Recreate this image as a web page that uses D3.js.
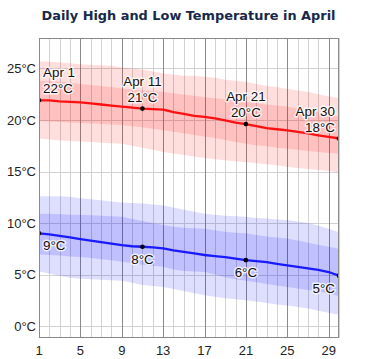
<!DOCTYPE html>
<html><head><meta charset="utf-8">
<script src="https://cdn.jsdelivr.net/npm/d3@7"></script>
<style>
body{margin:0;background:#fff;}
text{font-family:"Liberation Sans",Arial,sans-serif;}
</style></head>
<body><svg id="c" width="369" height="359"></svg>
<script>
const days = d3.range(1, 31);
const hiMean = [21.9,21.9,21.8,21.75,21.7,21.6,21.5,21.4,21.3,21.2,21.1,21.05,21.0,20.75,20.6,20.4,20.3,20.15,19.95,19.75,19.6,19.4,19.2,19.1,19.0,18.85,18.7,18.5,18.35,18.2];
const hiP90 = [25.7,25.65,25.6,25.5,25.4,25.35,25.3,25.25,25.1,25.0,24.9,24.7,24.5,24.4,24.3,24.3,24.2,24.1,23.9,23.8,23.7,23.5,23.3,23.2,23.0,22.85,22.7,22.5,22.3,22.1];
const hiP75 = [23.8,23.75,23.7,23.6,23.5,23.4,23.3,23.2,23.05,22.95,22.85,22.8,22.7,22.6,22.45,22.35,22.2,22.1,22.0,21.85,21.75,21.65,21.5,21.4,21.3,21.1,20.95,20.75,20.5,20.3];
const hiP25 = [19.9,19.85,19.8,19.75,19.7,19.65,19.6,19.55,19.5,19.4,19.3,19.15,19.0,18.85,18.7,18.55,18.4,18.25,18.05,17.85,17.7,17.55,17.45,17.3,17.2,17.1,17.0,16.9,16.8,16.75];
const hiP10 = [18.2,18.1,18.0,17.95,17.9,17.85,17.8,17.75,17.7,17.5,17.3,17.1,16.9,16.75,16.6,16.45,16.3,16.2,16.1,16.0,15.9,15.8,15.7,15.6,15.45,15.35,15.25,15.15,15.05,14.9];
const loMean = [9.0,8.9,8.75,8.6,8.45,8.3,8.15,8.0,7.85,7.75,7.7,7.65,7.55,7.35,7.2,7.05,6.9,6.8,6.7,6.55,6.4,6.3,6.2,6.05,5.9,5.75,5.6,5.45,5.25,4.9];
const loP90 = [12.6,12.6,12.6,12.55,12.4,12.3,12.2,12.1,12.0,11.95,11.9,11.8,11.7,11.5,11.3,11.1,10.9,10.8,10.7,10.65,10.6,10.5,10.45,10.35,10.3,10.15,10.0,9.75,9.45,9.1];
const loP75 = [10.9,10.9,10.85,10.8,10.8,10.75,10.7,10.65,10.6,10.4,10.2,10.0,9.8,9.65,9.55,9.5,9.45,9.3,9.15,9.05,9.0,8.85,8.7,8.6,8.5,8.3,8.1,7.9,7.7,7.5];
const loP25 = [6.95,6.9,6.85,6.75,6.7,6.6,6.5,6.4,6.25,6.1,5.95,5.85,5.75,5.5,5.35,5.3,5.25,5.0,4.75,4.55,4.4,4.25,4.1,3.95,3.8,3.65,3.5,3.35,3.2,2.9];
const loP10 = [5.3,5.1,4.9,4.7,4.6,4.55,4.5,4.45,4.4,4.2,4.0,3.9,3.8,3.6,3.4,3.2,3.0,2.85,2.7,2.6,2.5,2.4,2.25,2.1,2.0,1.85,1.7,1.5,1.3,1.1];
const xTicks = [1,5,9,13,17,21,25,29];
const yTicks = [0,5,10,15,20,25];
const hiLabelDays = [1,11,21,30];
const loLabelDays = [1,11,21,30];
const title = "Daily High and Low Temperature in April";

const svg = d3.select("#c");
const L = 39, R = 339, T = 38, B = 338;
const x = d3.scaleLinear().domain([1,30]).range([L,R]);
const y = d3.scaleLinear().domain([-1.15,27.95]).range([B,T]);

svg.append("text").attr("x",188.5).attr("y",20).attr("text-anchor","middle")
  .style("font-family","'DejaVu Sans',Verdana,sans-serif").style("font-weight","bold")
  .style("font-size","12.9px").attr("fill","#17294a").text(title);

svg.append("defs").append("clipPath").attr("id","clip").append("rect")
  .attr("x",L).attr("y",T).attr("width",R-L).attr("height",B-T);

// grid
const g = svg.append("g");
g.selectAll(".hg").data(yTicks).join("line")
  .attr("x1",L).attr("x2",R).attr("y1",d=>Math.round(y(d))+0.5).attr("y2",d=>Math.round(y(d))+0.5)
  .attr("stroke","#d2d2d2").attr("stroke-width",1);
g.selectAll(".vg").data(days.filter(d=>!xTicks.includes(d))).join("line")
  .attr("y1",T).attr("y2",B).attr("x1",d=>Math.round(x(d))+0.5).attr("x2",d=>Math.round(x(d))+0.5)
  .attr("stroke","#d2d2d2").attr("stroke-width",1);
g.selectAll(".vm").data(xTicks).join("line")
  .attr("y1",T).attr("y2",B).attr("x1",d=>Math.round(x(d))+0.5).attr("x2",d=>Math.round(x(d))+0.5)
  .attr("stroke","#8a8a8a").attr("stroke-width",1);

const plot = svg.append("g").attr("clip-path","url(#clip)");
function band(lo, hi, color, op){
  const a = d3.area().x((d,i)=>x(days[i])).y0((d,i)=>y(lo[i])).y1((d,i)=>y(hi[i]));
  plot.append("path").datum(days).attr("d",a).attr("fill",color).attr("fill-opacity",op);
}
band(hiP10, hiP90, "#ff0000", 0.13);
band(hiP25, hiP75, "#ff0000", 0.135);
band(loP10, loP90, "#0000ff", 0.13);
band(loP25, loP75, "#0000ff", 0.135);

const line = arr => d3.line().x((d,i)=>x(days[i])).y((d,i)=>y(arr[i]))(days);
plot.append("path").attr("d",line(hiMean)).attr("fill","none").attr("stroke","#ff1010").attr("stroke-width",2.3);
plot.append("path").attr("d",line(loMean)).attr("fill","none").attr("stroke","#1a1aff").attr("stroke-width",2.3);

plot.selectAll(".hd").data(hiLabelDays).join("circle").attr("cx",d=>x(d)).attr("cy",d=>y(hiMean[d-1])).attr("r",2.3).attr("fill","#000");
plot.selectAll(".ld").data(loLabelDays).join("circle").attr("cx",d=>x(d)).attr("cy",d=>y(loMean[d-1])).attr("r",2.3).attr("fill","#000");

// border
svg.append("rect").attr("x",L+0.5).attr("y",T+0.5).attr("width",R-L-1).attr("height",B-T-1)
  .attr("fill","none").attr("stroke","#8a8a8a");

// labels
function anchor(d){ return d===1?"start":(d===30?"end":"middle"); }
function dxo(d){ return d===1?4:(d===30?-4:0); }
const lab = svg.append("g").style("font-size","13.4px");
function halo(sel){ sel.attr("stroke","#fff").attr("stroke-width",3).attr("stroke-opacity",0.75).attr("stroke-linejoin","round").attr("paint-order","stroke").attr("fill","#111"); }
hiLabelDays.forEach(d=>{
  const px = x(d)+dxo(d), py = y(hiMean[d-1]);
  lab.append("text").attr("x",px).attr("y",py-23).attr("text-anchor",anchor(d)).call(halo).text("Apr "+d);
  lab.append("text").attr("x",px).attr("y",py-7).attr("text-anchor",anchor(d)).call(halo).text(Math.round(hiMean[d-1])+"°C");
});
loLabelDays.forEach(d=>{
  const px = x(d)+dxo(d), py = y(loMean[d-1]);
  lab.append("text").attr("x",px).attr("y",py+17).attr("text-anchor",anchor(d)).call(halo).text(Math.round(loMean[d-1])+"°C");
});

// axes text
svg.append("g").selectAll("text").data(yTicks).join("text")
  .attr("x",36).attr("y",d=>y(d)).attr("dy","0.35em").attr("text-anchor","end")
  .style("font-size","13px").attr("fill","#222").text(d=>d+"°C");
svg.append("g").selectAll("text").data(xTicks).join("text")
  .attr("x",d=>x(d)).attr("y",355).attr("text-anchor","middle")
  .style("font-size","13px").attr("fill","#222").text(d=>d);
</script></body></html>
